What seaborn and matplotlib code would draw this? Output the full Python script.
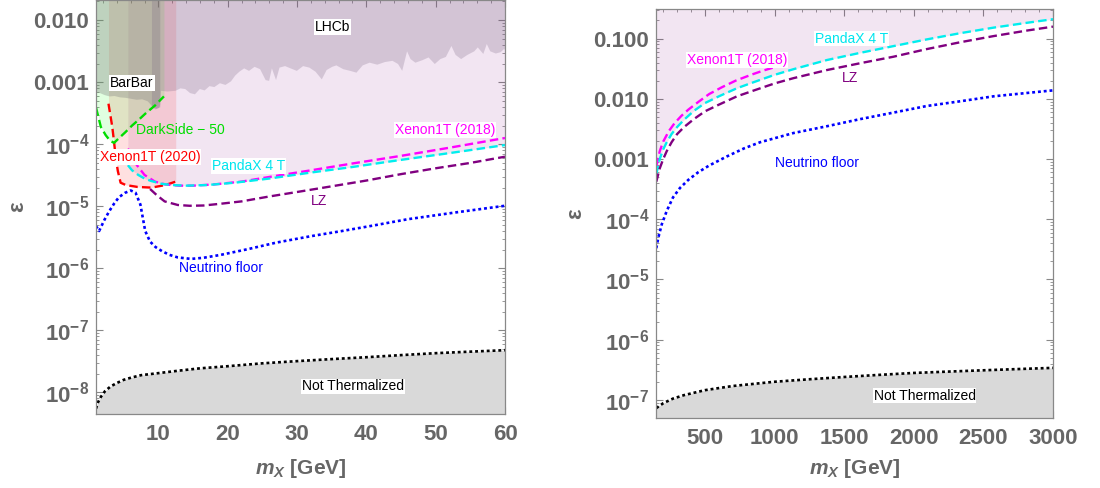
import numpy as np
import pandas as pd
import seaborn as sns
import matplotlib
matplotlib.use('Agg')
from matplotlib import pyplot as plt
from matplotlib.ticker import LogLocator, MultipleLocator, NullFormatter

# ---------------- left panel (m_X in GeV) ----------------
xe20_m = [2.8, 3.35, 3.6, 3.85, 4.15, 4.55, 5.3, 7.0, 9.0, 11.0, 12.5]
xe20_eps = [4.5e-4, 1.9e-4, 1.1e-4, 6e-5, 3.7e-5, 2.4e-5, 2.2e-5, 2.05e-5, 2.0e-5, 2.2e-5, 2.5e-5]

ds50_m = [1.0, 1.7, 2.4, 3.0, 3.6, 4.3, 5.2, 6.2, 7.2, 8.1, 9.5, 10.8]
ds50_eps = [3.9e-4, 1.9e-4, 1.4e-4, 1.15e-4, 1.05e-4, 1.25e-4, 1.55e-4, 2.0e-4, 2.5e-4, 3.1e-4, 4.2e-4, 5.9e-4]

xe18_m = [5.6, 6.2, 6.9, 8, 9.5, 11, 13, 15, 18, 22, 27, 32, 38, 45, 52, 60]
xe18_eps = [8.5e-5, 6.2e-5, 4.6e-5, 3.2e-5, 2.5e-5, 2.25e-5, 2.15e-5, 2.15e-5, 2.25e-5, 2.5e-5,
            3.1e-5, 3.8e-5, 4.9e-5, 6.5e-5, 8.8e-5, 1.26e-4]

px4_m = [5.6, 6.2, 7.1, 8, 9, 10.5, 12, 14, 17, 21, 26, 32, 38, 45, 52, 60]
px4_eps = [4.6e-5, 3.8e-5, 3.2e-5, 2.8e-5, 2.55e-5, 2.3e-5, 2.2e-5, 2.15e-5, 2.2e-5, 2.4e-5,
           2.8e-5, 3.5e-5, 4.3e-5, 5.6e-5, 7.2e-5, 9.7e-5]

lz_m = [8.8, 9.8, 10.9, 12.8, 14.5, 16.5, 19, 22, 26, 30, 35, 40, 45, 50, 55, 60]
lz_eps = [1.9e-5, 1.5e-5, 1.2e-5, 1.05e-5, 1.02e-5, 1.03e-5, 1.1e-5, 1.2e-5, 1.44e-5, 1.7e-5,
          2.1e-5, 2.6e-5, 3.3e-5, 4.1e-5, 5.0e-5, 6.3e-5]

nu_m = [1.0, 1.45, 2.2, 2.9, 3.6, 4.3, 5.2, 6.0, 6.7, 7.4, 8.1, 8.8, 9.6, 10.5, 11.6, 12.8,
        14.7, 16.5, 19, 23, 27, 32, 36.5, 41, 46, 53, 60]
nu_eps = [4.8e-6, 4.0e-6, 6e-6, 8.3e-6, 1.1e-5, 1.4e-5, 1.65e-5, 1.8e-5, 1.66e-5, 1.07e-5, 4.0e-6,
          2.7e-6, 2.2e-6, 1.9e-6, 1.65e-6, 1.5e-6, 1.42e-6, 1.48e-6, 1.65e-6, 2.05e-6, 2.6e-6,
          3.3e-6, 4.0e-6, 4.9e-6, 6.2e-6, 8.0e-6, 1.02e-5]

nt_m = [1.0, 1.3, 1.7, 2.3, 3.1, 4, 5, 6.2, 7.5, 10, 13, 16, 20, 25, 30, 35, 40, 45, 50, 55, 60]
nt_eps = [5.5e-9, 7.0e-9, 8.5e-9, 1.05e-8, 1.25e-8, 1.42e-8, 1.6e-8, 1.75e-8, 1.9e-8, 2.05e-8,
          2.25e-8, 2.45e-8, 2.65e-8, 2.95e-8, 3.2e-8, 3.45e-8, 3.7e-8, 4.0e-8, 4.3e-8, 4.55e-8, 4.8e-8]

barbar_m = [1.0, 1.5, 2.2, 2.9, 3.6, 4.4, 5.2, 6.0, 6.8, 7.6, 8.4, 9.0, 9.6, 10.2]
barbar_eps = [7.0e-4, 6.8e-4, 6.3e-4, 6.0e-4, 6.1e-4, 5.8e-4, 5.7e-4, 5.5e-4, 5.3e-4, 5.4e-4,
              5.0e-4, 4.2e-4, 3.8e-4, 4.0e-4]

lhcb_m = [9.0, 9.5, 10.0, 10.2, 10.3, 11.2, 12.4, 13.1, 13.8, 14.5, 15.2, 15.9, 16.6, 17.3, 18.0,
          18.8, 19.6, 20.4, 21.0, 21.6, 22.3, 23.0, 23.8, 24.6, 25.4, 25.9, 26.3, 26.9, 27.4, 28.2,
          29.0, 29.9, 30.8, 31.7, 32.6, 33.5, 34.2, 35.0, 35.6, 36.6, 37.6, 38.5, 39.4, 40.4, 41.5,
          42.6, 43.7, 44.5, 45.1, 45.8, 46.3, 47.0, 48.0, 48.9, 49.8, 50.6, 51.4, 52.2, 52.8, 53.6,
          54.5, 55.5, 56.0, 56.8, 57.3, 57.8, 58.6, 59.3, 59.8, 60.0]
lhcb_eps = [4.0e-4, 3.7e-4, 3.9e-4, 4.4e-4, 7.4e-4, 7.2e-4, 7.4e-4, 8.1e-4, 7.9e-4, 6.8e-4, 6.5e-4,
            7.9e-4, 7.5e-4, 8.8e-4, 8.5e-4, 9.8e-4, 9.2e-4, 1.05e-3, 1.3e-3, 1.5e-3, 1.7e-3, 1.55e-3,
            1.8e-3, 1.65e-3, 1.1e-3, 1.07e-3, 1.7e-3, 1.1e-3, 1.75e-3, 1.85e-3, 1.7e-3, 1.55e-3,
            1.85e-3, 1.75e-3, 1.5e-3, 1.13e-3, 1.6e-3, 1.8e-3, 1.9e-3, 1.65e-3, 1.55e-3, 1.45e-3,
            1.9e-3, 2.1e-3, 1.95e-3, 2.15e-3, 2.25e-3, 2.0e-3, 1.55e-3, 3.2e-3, 2.4e-3, 2.1e-3,
            2.3e-3, 2.55e-3, 2.0e-3, 2.4e-3, 2.6e-3, 3.9e-3, 2.8e-3, 2.4e-3, 2.8e-3, 3.2e-3,
            3.7e-3, 2.9e-3, 4.2e-3, 3.2e-3, 2.95e-3, 3.1e-3, 3.5e-3, 3.3e-3]

# ---------------- right panel (m_X in GeV) ----------------
xe18_hi_m = [150, 175, 200, 240, 280, 330, 380, 450, 530, 620, 720, 830, 920, 1000]
xe18_hi_eps = [7.6e-4, 1.35e-3, 1.95e-3, 2.9e-3, 3.9e-3, 5.2e-3, 6.6e-3, 8.8e-3, 1.2e-2, 1.55e-2,
               2.0e-2, 2.5e-2, 2.95e-2, 3.35e-2]

px4_hi_m = [150, 175, 200, 225, 260, 300, 350, 420, 500, 600, 730, 880, 1000, 1135, 1375, 1615,
            1854, 2094, 2334, 2573, 2813, 3000]
px4_hi_eps = [5.6e-4, 1.0e-3, 1.45e-3, 1.9e-3, 2.6e-3, 3.4e-3, 4.5e-3, 6.3e-3, 8.5e-3, 1.1e-2,
              1.5e-2, 2.0e-2, 2.5e-2, 3.1e-2, 4.4e-2, 5.8e-2, 7.5e-2, 9.7e-2, 0.123, 0.152, 0.183, 0.21]

lz_hi_m = [150, 175, 200, 225, 260, 300, 350, 420, 500, 600, 730, 880, 1000, 1135, 1375, 1615,
           1854, 2094, 2334, 2573, 2813, 3000]
lz_hi_eps = [4.2e-4, 7e-4, 1.0e-3, 1.35e-3, 1.9e-3, 2.6e-3, 3.4e-3, 4.6e-3, 6.2e-3, 8.0e-3, 1.1e-2,
             1.45e-2, 1.8e-2, 2.2e-2, 3.0e-2, 3.9e-2, 5.0e-2, 6.7e-2, 8.7e-2, 0.11, 0.136, 0.158]

nu_hi_m = [150, 165, 190, 225, 270, 320, 380, 450, 530, 656, 780, 896, 1135, 1375, 1615, 1854,
           2094, 2334, 2573, 2813, 3000]
nu_hi_eps = [3.3e-5, 5e-5, 8.3e-5, 1.37e-4, 2.3e-4, 3.3e-4, 4.5e-4, 6e-4, 7.8e-4, 1.1e-3, 1.5e-3,
             1.9e-3, 2.7e-3, 3.5e-3, 4.6e-3, 5.9e-3, 7.6e-3, 9.1e-3, 1.1e-2, 1.25e-2, 1.38e-2]

nt_hi_m = [150, 200, 270, 350, 500, 700, 1000, 1250, 1500, 1750, 2000, 2250, 2500, 2750, 3000]
nt_hi_eps = [7.3e-8, 8.8e-8, 1.05e-7, 1.2e-7, 1.45e-7, 1.7e-7, 2.0e-7, 2.2e-7, 2.4e-7, 2.6e-7,
             2.8e-7, 2.95e-7, 3.1e-7, 3.25e-7, 3.4e-7]

left_yticks = [1e-8, 1e-7, 1e-6, 1e-5, 1e-4, 1e-3, 1e-2]
left_ylabels = [r'$\mathbf{10^{-8}}$', r'$\mathbf{10^{-7}}$', r'$\mathbf{10^{-6}}$',
                r'$\mathbf{10^{-5}}$', r'$\mathbf{10^{-4}}$', '0.001', '0.010']
right_yticks = [1e-7, 1e-6, 1e-5, 1e-4, 1e-3, 1e-2, 1e-1]
right_ylabels = [r'$\mathbf{10^{-7}}$', r'$\mathbf{10^{-6}}$', r'$\mathbf{10^{-5}}$',
                 r'$\mathbf{10^{-4}}$', '0.001', '0.010', '0.100']

sns.set_theme(style='ticks')
plt.rcParams['font.family'] = ['Liberation Sans', 'DejaVu Sans']
plt.rcParams['mathtext.fontset'] = 'custom'
plt.rcParams['mathtext.rm'] = 'Liberation Sans'
plt.rcParams['mathtext.bf'] = 'Liberation Sans:bold'
plt.rcParams['mathtext.it'] = 'Liberation Sans:italic'
plt.rcParams['mathtext.bfit'] = 'Liberation Sans:bold:italic'

GRAY = '#666666'
DASH = (0, (3.6, 1.8))
DOT = (0, (1.1, 1.1))

fig = plt.figure(figsize=(11, 4.88), dpi=100)
ax1 = fig.add_axes([96 / 1100, 1 - 414 / 488, 409 / 1100, 414 / 488])
ax2 = fig.add_axes([656 / 1100, 1 - 418 / 488, 397 / 1100, 409 / 488])


def line(ax, m, eps, color, ls, lw=1.7):
    df = pd.DataFrame({'m': m, 'eps': eps})
    sns.lineplot(data=df, x='m', y='eps', ax=ax, color=color, linestyle=ls, lw=lw,
                 sort=False, estimator=None, legend=False)


def label(ax, x, y, s, color, bg=True, size=10):
    kw = dict(facecolor='white', edgecolor='none', pad=0.6) if bg else None
    ax.text(x, y, s, color=color, fontsize=size, ha='center', va='center', bbox=kw, zorder=10)


for ax in (ax1, ax2):
    ax.set_yscale('log')

# ---- left: shaded regions ----
top1 = 0.0211
ax1.fill_between(px4_m, px4_eps, top1, color='#800080', alpha=0.1, lw=0)
ax1.fill_between(xe20_m, xe20_eps, top1, color='red', alpha=0.12, lw=0)
ax1.fill_between(ds50_m, ds50_eps, top1, color='#00ff00', alpha=0.12, lw=0)
ax1.fill_between(barbar_m, barbar_eps, top1, color='#808080', alpha=0.35, lw=0)
ax1.fill_between(lhcb_m, lhcb_eps, top1, color='#786482', alpha=0.25, lw=0)
ax1.fill_between(nt_m, 1e-12, nt_eps, color='#d9d9d9', lw=0)

line(ax1, xe20_m, xe20_eps, 'red', DASH)
line(ax1, ds50_m, ds50_eps, '#00dd00', DASH)
line(ax1, xe18_m, xe18_eps, '#ff00ff', DASH)
line(ax1, px4_m, px4_eps, '#00eeee', DASH)
line(ax1, lz_m, lz_eps, '#800080', DASH)
line(ax1, nu_m, nu_eps, '#0000ff', DOT, lw=1.9)
line(ax1, nt_m, nt_eps, 'black', DOT, lw=1.9)

label(ax1, 35.1, 7.8e-3, 'LHCb', 'black')
label(ax1, 6.2, 9.6e-4, 'BarBar', 'black')
label(ax1, 13.1, 1.7e-4, 'DarkSide − 50', '#00dd00', bg=False)
label(ax1, 8.8, 6.3e-5, 'Xenon1T (2020)', 'red')
label(ax1, 23.0, 4.5e-5, 'PandaX 4 T', '#00e5ee')
label(ax1, 51.4, 1.7e-4, 'Xenon1T (2018)', '#ff00ff')
label(ax1, 33.2, 1.2e-5, 'LZ', '#800080', bg=False)
label(ax1, 19.0, 1.0e-6, 'Neutrino floor', '#0000ff', bg=False)
label(ax1, 38.1, 1.25e-8, 'Not Thermalized', 'black')

ax1.set_xlim(1, 60)
ax1.set_ylim(4.5e-9, top1)
ax1.set_yticks(left_yticks, left_ylabels)
ax1.set_xticks([10, 20, 30, 40, 50, 60])
ax1.xaxis.set_minor_locator(MultipleLocator(2))

# ---- right panel ----
top2 = 0.31
ax2.fill_between(px4_hi_m, px4_hi_eps, top2, color='#800080', alpha=0.1, lw=0)
ax2.fill_between(nt_hi_m, 1e-12, nt_hi_eps, color='#d9d9d9', lw=0)

line(ax2, xe18_hi_m, xe18_hi_eps, '#ff00ff', DASH)
line(ax2, px4_hi_m, px4_hi_eps, '#00eeee', DASH)
line(ax2, lz_hi_m, lz_hi_eps, '#800080', DASH)
line(ax2, nu_hi_m, nu_hi_eps, '#0000ff', DOT, lw=1.9)
line(ax2, nt_hi_m, nt_hi_eps, 'black', DOT, lw=1.9)

label(ax2, 728, 0.044, 'Xenon1T (2018)', '#ff00ff')
label(ax2, 1555, 0.1, 'PandaX 4 T', '#00e5ee')
label(ax2, 1543, 0.022, 'LZ', '#800080', bg=False)
label(ax2, 1303, 8.5e-4, 'Neutrino floor', '#0000ff', bg=False)
label(ax2, 2077, 1.18e-7, 'Not Thermalized', 'black')

ax2.set_xlim(148, 3000)
ax2.set_ylim(5e-8, top2)
ax2.set_yticks(right_yticks, right_ylabels)
ax2.set_xticks([500, 1000, 1500, 2000, 2500, 3000])
ax2.xaxis.set_minor_locator(MultipleLocator(100))

for ax, ylc, xlc in ((ax1, -0.165, -0.105), (ax2, -0.175, -0.095)):
    ax.yaxis.set_minor_locator(LogLocator(base=10, subs=np.arange(2, 10), numticks=20))
    ax.yaxis.set_minor_formatter(NullFormatter())
    ax.tick_params(which='both', direction='in', top=True, right=True, color='#888888',
                   labelcolor=GRAY, labelsize=16)
    ax.tick_params(axis='x', which='both', pad=7)
    ax.tick_params(axis='y', which='both', pad=5)
    ax.tick_params(which='major', length=5, width=0.8)
    ax.tick_params(which='minor', length=2.5, width=0.6)
    for t in ax.get_xticklabels() + ax.get_yticklabels():
        t.set_fontweight('bold')
    for sp in ax.spines.values():
        sp.set_color('#888888')
        sp.set_linewidth(0.9)
    ax.set_xlabel(r'$\mathbfit{m_X}$ [GeV]', fontsize=15, fontweight='bold', color=GRAY)
    ax.set_ylabel('ε', fontsize=16, fontweight='bold', color=GRAY)
    ax.yaxis.set_label_coords(ylc, 0.5)
    ax.xaxis.set_label_coords(0.5, xlc)

fig.savefig('out.png', dpi=100)
